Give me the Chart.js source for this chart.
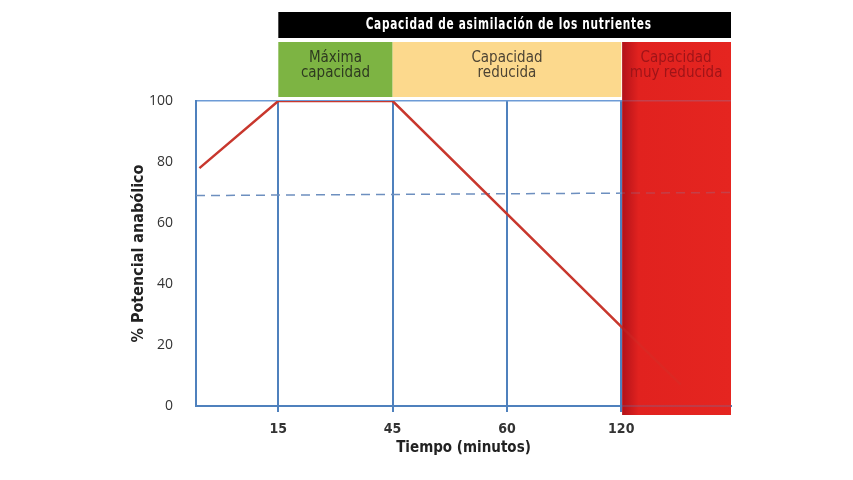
<!DOCTYPE html>
<html>
<head>
<meta charset="utf-8">
<title>Potencial anabólico</title>
<script src="https://cdn.jsdelivr.net/npm/chart.js@4.4.0/dist/chart.umd.min.js"></script>
<style>
  body { margin: 0; background: #fff; }
</style>
</head>
<body>
<canvas id="myChart" width="853" height="480"></canvas>
<script>
// x axis: evenly spaced slots and the minutes shown under them
var timePos = [1, 2, 3, 4];
var timeLabels = ["15", "45", "60", "120"];

// % potencial anabolico (red line), x given in slots
var potPos = [0.31, 1, 2, 4, 4.52];
var potValues = [78, 100, 100, 26, 7];

// dashed reference line
var refPos = [0.28, 4.96];
var refValues = [69, 70];

// header bands
var headerTitle = "Capacidad de asimilación de los nutrientes";
var bandNames = [["Máxima", "capacidad"], ["Capacidad", "reducida"], ["Capacidad", "muy reducida"]];
var bandFrom = [1, 2, 4];
var bandTo = [2, 4, 4.96];

var narrow = "'Liberation Sans Narrow', 'DejaVu Sans Condensed', sans-serif";
var blue = "#4f81bd";

function toPoints(xs, ys) {
  return xs.map(function(x, i) { return { x: x, y: ys[i] } });
}

function fillRed(ctx, x1, y1, x2, y2) {
  var g = ctx.createLinearGradient(x1, 0, x2, 0);
  g.addColorStop(0, "#b31219");
  g.addColorStop(0.15, "#e1221f");
  g.addColorStop(1, "#e52520");
  ctx.fillStyle = g;
  ctx.fillRect(x1, y1, x2 - x1, y2 - y1);
}

var bandsPlugin = {
  id: "bands",
  beforeDraw: function(chart) {
    var ctx = chart.ctx, x = chart.scales.x, area = chart.chartArea;
    ctx.save();
    fillRed(ctx, x.getPixelForValue(bandFrom[2]) + 1, area.top - 59, x.getPixelForValue(bandTo[2]), area.bottom + 9);
    ctx.restore();
  },
  afterDatasetsDraw: function(chart) {
    // lay the red zone over the lines again, so they only show through faintly
    var ctx = chart.ctx, x = chart.scales.x, area = chart.chartArea;
    ctx.save();
    ctx.globalAlpha = 0.75;
    fillRed(ctx, x.getPixelForValue(bandFrom[2]) + 1, area.top - 59, x.getPixelForValue(bandTo[2]), area.bottom + 9);
    ctx.restore();
  },
  afterDraw: function(chart) {
    var ctx = chart.ctx, x = chart.scales.x, area = chart.chartArea;
    var left = x.getPixelForValue(bandFrom[0]);
    var right = x.getPixelForValue(bandTo[2]);
    ctx.save();
    // black title bar
    ctx.fillStyle = "#000";
    ctx.fillRect(left, area.top - 89, right - left, 26);
    ctx.fillStyle = "#fff";
    ctx.font = "bold 16px " + narrow;
    ctx.letterSpacing = "1px";
    ctx.textAlign = "center";
    ctx.textBaseline = "middle";
    ctx.fillText(headerTitle, (left + right) / 2 + 4, area.top - 76, 286);
    ctx.letterSpacing = "0px";

    var fills = ["#7db443", "#fcd98d", null];
    var inks = ["#2e3a20", "#4d4434", "#9e1418"];
    ctx.font = "15px " + narrow;
    for (var i = 0; i < bandNames.length; i++) {
      var a = x.getPixelForValue(bandFrom[i]);
      var b = x.getPixelForValue(bandTo[i]);
      if (fills[i]) {
        ctx.fillStyle = fills[i];
        ctx.fillRect(a, area.top - 59, b - a, 55);
      }
      ctx.fillStyle = inks[i];
      ctx.fillText(bandNames[i][0], (a + b) / 2, area.top - 43);
      ctx.fillText(bandNames[i][1], (a + b) / 2, area.top - 28);
    }
    ctx.restore();
  }
};

var ctx = document.getElementById("myChart").getContext("2d");
var chart = new Chart(ctx, {
  type: "line",
  data: {
    datasets: [
      {
        label: "% Potencial anabólico",
        data: toPoints(potPos, potValues),
        borderColor: "#c8372d",
        borderWidth: 2.5,
        pointRadius: 0,
        tension: 0
      },
      {
        label: "referencia",
        data: toPoints(refPos, refValues),
        borderColor: "#6d8fbf",
        borderWidth: 1.5,
        borderDash: [9, 6],
        pointRadius: 0,
        tension: 0
      }
    ]
  },
  options: {
    responsive: false,
    animation: false,
    layout: { padding: { left: 0, top: 101, right: 122, bottom: 0 } },
    plugins: {
      legend: { display: false },
      tooltip: { enabled: false }
    },
    scales: {
      x: {
        type: "linear",
        min: 0.28,
        max: 4.96,
        afterBuildTicks: function(scale) {
          scale.ticks = timePos.map(function(v) { return { value: v } });
        },
        afterFit: function(scale) { scale.height = 74 },
        grid: { color: blue, lineWidth: 2, tickLength: 6 },
        border: { color: blue, width: 2 },
        ticks: {
          padding: 9,
          color: "#333",
          font: { family: narrow, size: 14, weight: "bold" },
          callback: function(value) {
            var i = timePos.indexOf(value);
            return i >= 0 ? timeLabels[i] : "";
          }
        },
        title: {
          display: true,
          text: "Tiempo (minutos)",
          color: "#222",
          font: { family: narrow, size: 15, weight: "bold" },
          padding: { top: 0, bottom: 23 }
        }
      },
      y: {
        min: 0,
        max: 100,
        afterFit: function(scale) { scale.width = 196 },
        grid: {
          drawTicks: false,
          lineWidth: 1.5,
          color: function(c) { return c.tick && c.tick.value === 100 ? "#6d9bd6" : "rgba(0,0,0,0)" }
        },
        border: { color: blue, width: 2 },
        ticks: {
          stepSize: 20,
          padding: 23,
          color: "#333",
          font: { family: "'Open Sans', sans-serif", size: 14 }
        },
        title: {
          display: true,
          text: "% Potencial anabólico",
          color: "#222",
          font: { family: narrow, size: 16, weight: "bold" },
          padding: { top: 129, bottom: 0 }
        }
      }
    }
  },
  plugins: [bandsPlugin]
});
</script>
</body>
</html>
